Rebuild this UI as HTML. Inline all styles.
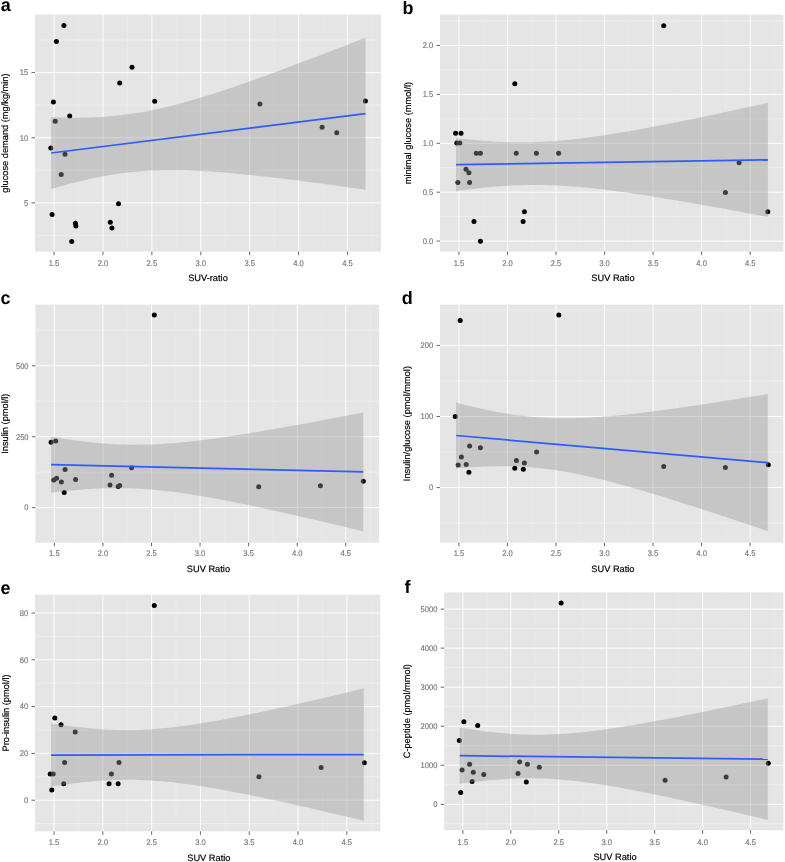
<!DOCTYPE html>
<html><head><meta charset="utf-8"><style>
html,body{margin:0;padding:0;background:#fff;}
svg{display:block;will-change:transform;}
text{font-family:"Liberation Sans",sans-serif;text-rendering:geometricPrecision;}
.tk{font-size:7.6px;fill:#727272;stroke:#727272;stroke-width:0.12px;}
.ti{font-size:9.25px;fill:#000;stroke:#000;stroke-width:0.18px;}
.lt{font-size:18px;font-weight:bold;fill:#000;}
</style></head><body>
<svg width="785" height="862" viewBox="0 0 785 862">
<rect width="785" height="862" fill="#fff"/>
<rect x="35" y="14.5" width="346" height="237.1" fill="#e5e5e5"/>
<line x1="35" x2="381" y1="235.47" y2="235.47" stroke="#f1f1f1" stroke-width="0.8"/>
<line x1="35" x2="381" y1="170.32" y2="170.32" stroke="#f1f1f1" stroke-width="0.8"/>
<line x1="35" x2="381" y1="105.17" y2="105.17" stroke="#f1f1f1" stroke-width="0.8"/>
<line x1="35" x2="381" y1="40.02" y2="40.02" stroke="#f1f1f1" stroke-width="0.8"/>
<line y1="14.5" y2="251.6" x1="78.52" x2="78.52" stroke="#eaeaea" stroke-width="0.8"/>
<line y1="14.5" y2="251.6" x1="127.42" x2="127.42" stroke="#eaeaea" stroke-width="0.8"/>
<line y1="14.5" y2="251.6" x1="176.31" x2="176.31" stroke="#eaeaea" stroke-width="0.8"/>
<line y1="14.5" y2="251.6" x1="225.21" x2="225.21" stroke="#eaeaea" stroke-width="0.8"/>
<line y1="14.5" y2="251.6" x1="274.11" x2="274.11" stroke="#eaeaea" stroke-width="0.8"/>
<line y1="14.5" y2="251.6" x1="323.01" x2="323.01" stroke="#eaeaea" stroke-width="0.8"/>
<line y1="14.5" y2="251.6" x1="371.91" x2="371.91" stroke="#eaeaea" stroke-width="0.8"/>
<line x1="35" x2="381" y1="202.9" y2="202.9" stroke="#ffffff" stroke-width="0.95"/>
<line x1="35" x2="381" y1="137.75" y2="137.75" stroke="#ffffff" stroke-width="0.95"/>
<line x1="35" x2="381" y1="72.6" y2="72.6" stroke="#ffffff" stroke-width="0.95"/>
<line y1="14.5" y2="251.6" x1="54.07" x2="54.07" stroke="#ffffff" stroke-width="0.95"/>
<line y1="14.5" y2="251.6" x1="102.97" x2="102.97" stroke="#ffffff" stroke-width="0.95"/>
<line y1="14.5" y2="251.6" x1="151.87" x2="151.87" stroke="#ffffff" stroke-width="0.95"/>
<line y1="14.5" y2="251.6" x1="200.76" x2="200.76" stroke="#ffffff" stroke-width="0.95"/>
<line y1="14.5" y2="251.6" x1="249.66" x2="249.66" stroke="#ffffff" stroke-width="0.95"/>
<line y1="14.5" y2="251.6" x1="298.56" x2="298.56" stroke="#ffffff" stroke-width="0.95"/>
<line y1="14.5" y2="251.6" x1="347.46" x2="347.46" stroke="#ffffff" stroke-width="0.95"/>
<circle cx="63.9" cy="25.6" r="2.5"/>
<circle cx="56.4" cy="41.4" r="2.5"/>
<circle cx="132" cy="67.3" r="2.5"/>
<circle cx="119.7" cy="82.9" r="2.5"/>
<circle cx="53.4" cy="101.9" r="2.5"/>
<circle cx="154.7" cy="101.3" r="2.5"/>
<circle cx="69.7" cy="115.9" r="2.5"/>
<circle cx="55.2" cy="121.2" r="2.5"/>
<circle cx="50.8" cy="147.9" r="2.5"/>
<circle cx="65" cy="154.2" r="2.5"/>
<circle cx="61.2" cy="174.5" r="2.5"/>
<circle cx="52.1" cy="214.5" r="2.5"/>
<circle cx="75.4" cy="223.2" r="2.5"/>
<circle cx="75.9" cy="225.9" r="2.5"/>
<circle cx="110.3" cy="222.3" r="2.5"/>
<circle cx="111.9" cy="228" r="2.5"/>
<circle cx="118.5" cy="203.7" r="2.5"/>
<circle cx="71.7" cy="241.5" r="2.5"/>
<circle cx="259.9" cy="104" r="2.5"/>
<circle cx="365.4" cy="101" r="2.5"/>
<circle cx="322.1" cy="127.3" r="2.5"/>
<circle cx="336.7" cy="132.7" r="2.5"/>
<path d="M51.2,117.05 L56.53,117.28 L61.85,117.45 L67.18,117.58 L72.51,117.65 L77.84,117.66 L83.16,117.61 L88.49,117.5 L93.82,117.31 L99.14,117.06 L104.47,116.73 L109.8,116.32 L115.13,115.82 L120.45,115.25 L125.78,114.6 L131.11,113.86 L136.43,113.04 L141.76,112.14 L147.09,111.16 L152.42,110.11 L157.74,108.98 L163.07,107.78 L168.4,106.51 L173.72,105.19 L179.05,103.8 L184.38,102.36 L189.71,100.86 L195.03,99.32 L200.36,97.73 L205.69,96.1 L211.01,94.43 L216.34,92.73 L221.67,91 L226.99,89.23 L232.32,87.44 L237.65,85.62 L242.98,83.78 L248.3,81.91 L253.63,80.03 L258.96,78.12 L264.28,76.2 L269.61,74.26 L274.94,72.31 L280.27,70.34 L285.59,68.37 L290.92,66.37 L296.25,64.37 L301.57,62.36 L306.9,60.34 L312.23,58.31 L317.56,56.27 L322.88,54.22 L328.21,52.16 L333.54,50.1 L338.86,48.03 L344.19,45.95 L349.52,43.87 L354.85,41.79 L360.17,39.7 L365.5,37.6 L365.5,189.8 L360.17,189.04 L354.85,188.28 L349.52,187.52 L344.19,186.77 L338.86,186.03 L333.54,185.29 L328.21,184.56 L322.88,183.84 L317.56,183.12 L312.23,182.42 L306.9,181.72 L301.57,181.03 L296.25,180.35 L290.92,179.68 L285.59,179.02 L280.27,178.37 L274.94,177.74 L269.61,177.12 L264.28,176.51 L258.96,175.92 L253.63,175.35 L248.3,174.8 L242.98,174.27 L237.65,173.75 L232.32,173.27 L226.99,172.81 L221.67,172.37 L216.34,171.97 L211.01,171.6 L205.69,171.26 L200.36,170.97 L195.03,170.71 L189.71,170.5 L184.38,170.34 L179.05,170.23 L173.72,170.17 L168.4,170.18 L163.07,170.24 L157.74,170.38 L152.42,170.58 L147.09,170.86 L141.76,171.21 L136.43,171.64 L131.11,172.16 L125.78,172.75 L120.45,173.43 L115.13,174.19 L109.8,175.03 L104.47,175.95 L99.14,176.95 L93.82,178.03 L88.49,179.18 L83.16,180.39 L77.84,181.68 L72.51,183.02 L67.18,184.43 L61.85,185.88 L56.53,187.39 L51.2,188.95 Z" fill="#999999" fill-opacity="0.4"/>
<line x1="51.2" y1="153" x2="365.5" y2="113.7" stroke="#2d5cff" stroke-width="1.75"/>
<line x1="31.5" x2="35" y1="202.9" y2="202.9" stroke="#6a6a6a" stroke-width="1"/>
<text transform="translate(28.2,205.75) scale(1,1.08)" text-anchor="end" class="tk">5</text>
<line x1="31.5" x2="35" y1="137.75" y2="137.75" stroke="#6a6a6a" stroke-width="1"/>
<text transform="translate(28.2,140.6) scale(1,1.08)" text-anchor="end" class="tk">10</text>
<line x1="31.5" x2="35" y1="72.6" y2="72.6" stroke="#6a6a6a" stroke-width="1"/>
<text transform="translate(28.2,75.45) scale(1,1.08)" text-anchor="end" class="tk">15</text>
<line x1="54.07" x2="54.07" y1="251.6" y2="255.2" stroke="#6a6a6a" stroke-width="1"/>
<text transform="translate(54.07,265.5) scale(1,1.08)" text-anchor="middle" class="tk">1.5</text>
<line x1="102.97" x2="102.97" y1="251.6" y2="255.2" stroke="#6a6a6a" stroke-width="1"/>
<text transform="translate(102.97,265.5) scale(1,1.08)" text-anchor="middle" class="tk">2.0</text>
<line x1="151.87" x2="151.87" y1="251.6" y2="255.2" stroke="#6a6a6a" stroke-width="1"/>
<text transform="translate(151.87,265.5) scale(1,1.08)" text-anchor="middle" class="tk">2.5</text>
<line x1="200.76" x2="200.76" y1="251.6" y2="255.2" stroke="#6a6a6a" stroke-width="1"/>
<text transform="translate(200.76,265.5) scale(1,1.08)" text-anchor="middle" class="tk">3.0</text>
<line x1="249.66" x2="249.66" y1="251.6" y2="255.2" stroke="#6a6a6a" stroke-width="1"/>
<text transform="translate(249.66,265.5) scale(1,1.08)" text-anchor="middle" class="tk">3.5</text>
<line x1="298.56" x2="298.56" y1="251.6" y2="255.2" stroke="#6a6a6a" stroke-width="1"/>
<text transform="translate(298.56,265.5) scale(1,1.08)" text-anchor="middle" class="tk">4.0</text>
<line x1="347.46" x2="347.46" y1="251.6" y2="255.2" stroke="#6a6a6a" stroke-width="1"/>
<text transform="translate(347.46,265.5) scale(1,1.08)" text-anchor="middle" class="tk">4.5</text>
<text x="208" y="281.3" text-anchor="middle" class="ti">SUV-ratio</text>
<text transform="translate(7.9,133.05) rotate(-90)" text-anchor="middle" class="ti">glucose demand (mg/kg/min)</text>
<text x="0.8" y="11.4" class="lt">a</text>
<rect x="440" y="14.6" width="343.5" height="236.9" fill="#e5e5e5"/>
<line x1="440" x2="783.5" y1="216.65" y2="216.65" stroke="#f1f1f1" stroke-width="0.8"/>
<line x1="440" x2="783.5" y1="167.75" y2="167.75" stroke="#f1f1f1" stroke-width="0.8"/>
<line x1="440" x2="783.5" y1="118.85" y2="118.85" stroke="#f1f1f1" stroke-width="0.8"/>
<line x1="440" x2="783.5" y1="69.95" y2="69.95" stroke="#f1f1f1" stroke-width="0.8"/>
<line x1="440" x2="783.5" y1="21.05" y2="21.05" stroke="#f1f1f1" stroke-width="0.8"/>
<line y1="14.6" y2="251.5" x1="483.2" x2="483.2" stroke="#eaeaea" stroke-width="0.8"/>
<line y1="14.6" y2="251.5" x1="531.75" x2="531.75" stroke="#eaeaea" stroke-width="0.8"/>
<line y1="14.6" y2="251.5" x1="580.29" x2="580.29" stroke="#eaeaea" stroke-width="0.8"/>
<line y1="14.6" y2="251.5" x1="628.84" x2="628.84" stroke="#eaeaea" stroke-width="0.8"/>
<line y1="14.6" y2="251.5" x1="677.38" x2="677.38" stroke="#eaeaea" stroke-width="0.8"/>
<line y1="14.6" y2="251.5" x1="725.93" x2="725.93" stroke="#eaeaea" stroke-width="0.8"/>
<line y1="14.6" y2="251.5" x1="774.47" x2="774.47" stroke="#eaeaea" stroke-width="0.8"/>
<line x1="440" x2="783.5" y1="241.1" y2="241.1" stroke="#ffffff" stroke-width="0.95"/>
<line x1="440" x2="783.5" y1="192.2" y2="192.2" stroke="#ffffff" stroke-width="0.95"/>
<line x1="440" x2="783.5" y1="143.3" y2="143.3" stroke="#ffffff" stroke-width="0.95"/>
<line x1="440" x2="783.5" y1="94.4" y2="94.4" stroke="#ffffff" stroke-width="0.95"/>
<line x1="440" x2="783.5" y1="45.5" y2="45.5" stroke="#ffffff" stroke-width="0.95"/>
<line y1="14.6" y2="251.5" x1="458.93" x2="458.93" stroke="#ffffff" stroke-width="0.95"/>
<line y1="14.6" y2="251.5" x1="507.48" x2="507.48" stroke="#ffffff" stroke-width="0.95"/>
<line y1="14.6" y2="251.5" x1="556.02" x2="556.02" stroke="#ffffff" stroke-width="0.95"/>
<line y1="14.6" y2="251.5" x1="604.57" x2="604.57" stroke="#ffffff" stroke-width="0.95"/>
<line y1="14.6" y2="251.5" x1="653.11" x2="653.11" stroke="#ffffff" stroke-width="0.95"/>
<line y1="14.6" y2="251.5" x1="701.65" x2="701.65" stroke="#ffffff" stroke-width="0.95"/>
<line y1="14.6" y2="251.5" x1="750.2" x2="750.2" stroke="#ffffff" stroke-width="0.95"/>
<circle cx="663.7" cy="25.8" r="2.5"/>
<circle cx="514.8" cy="83.8" r="2.5"/>
<circle cx="455.6" cy="133.3" r="2.5"/>
<circle cx="461" cy="133.3" r="2.5"/>
<circle cx="456.8" cy="142.9" r="2.5"/>
<circle cx="459.8" cy="142.9" r="2.5"/>
<circle cx="476.3" cy="153.2" r="2.5"/>
<circle cx="480.4" cy="153.2" r="2.5"/>
<circle cx="516.2" cy="153.2" r="2.5"/>
<circle cx="536.4" cy="153.2" r="2.5"/>
<circle cx="558.6" cy="153.2" r="2.5"/>
<circle cx="466" cy="169.3" r="2.5"/>
<circle cx="468.9" cy="172.7" r="2.5"/>
<circle cx="457.9" cy="182.4" r="2.5"/>
<circle cx="469.6" cy="182.4" r="2.5"/>
<circle cx="524.4" cy="211.7" r="2.5"/>
<circle cx="474" cy="221.6" r="2.5"/>
<circle cx="523.1" cy="221.6" r="2.5"/>
<circle cx="480.4" cy="241.3" r="2.5"/>
<circle cx="739.1" cy="162.7" r="2.5"/>
<circle cx="725.4" cy="192.5" r="2.5"/>
<circle cx="767.8" cy="211.7" r="2.5"/>
<path d="M456.1,138.15 L461.38,138.74 L466.67,139.3 L471.95,139.82 L477.24,140.3 L482.52,140.74 L487.81,141.12 L493.09,141.46 L498.38,141.75 L503.66,141.97 L508.95,142.15 L514.23,142.26 L519.52,142.31 L524.8,142.29 L530.09,142.22 L535.37,142.08 L540.66,141.87 L545.94,141.61 L551.23,141.28 L556.51,140.9 L561.79,140.46 L567.08,139.96 L572.36,139.42 L577.65,138.83 L582.93,138.19 L588.22,137.52 L593.5,136.8 L598.79,136.05 L604.07,135.26 L609.36,134.44 L614.64,133.6 L619.93,132.73 L625.21,131.83 L630.5,130.91 L635.78,129.97 L641.07,129.02 L646.35,128.04 L651.64,127.05 L656.92,126.05 L662.21,125.03 L667.49,123.99 L672.77,122.95 L678.06,121.89 L683.34,120.83 L688.63,119.75 L693.91,118.67 L699.2,117.58 L704.48,116.48 L709.77,115.38 L715.05,114.26 L720.34,113.14 L725.62,112.02 L730.91,110.89 L736.19,109.76 L741.48,108.62 L746.76,107.47 L752.05,106.32 L757.33,105.17 L762.62,104.01 L767.9,102.85 L767.9,216.95 L762.62,215.95 L757.33,214.95 L752.05,213.97 L746.76,212.98 L741.48,212 L736.19,211.02 L730.91,210.05 L725.62,209.08 L720.34,208.12 L715.05,207.16 L709.77,206.21 L704.48,205.27 L699.2,204.33 L693.91,203.41 L688.63,202.49 L683.34,201.57 L678.06,200.67 L672.77,199.78 L667.49,198.9 L662.21,198.03 L656.92,197.17 L651.64,196.33 L646.35,195.5 L641.07,194.69 L635.78,193.89 L630.5,193.12 L625.21,192.36 L619.93,191.63 L614.64,190.92 L609.36,190.24 L604.07,189.58 L598.79,188.96 L593.5,188.37 L588.22,187.82 L582.93,187.3 L577.65,186.83 L572.36,186.4 L567.08,186.02 L561.79,185.69 L556.51,185.41 L551.23,185.19 L545.94,185.03 L540.66,184.92 L535.37,184.88 L530.09,184.91 L524.8,184.99 L519.52,185.14 L514.23,185.35 L508.95,185.63 L503.66,185.96 L498.38,186.35 L493.09,186.8 L487.81,187.3 L482.52,187.85 L477.24,188.45 L471.95,189.09 L466.67,189.77 L461.38,190.5 L456.1,191.25 Z" fill="#999999" fill-opacity="0.4"/>
<line x1="456.1" y1="164.7" x2="767.9" y2="159.9" stroke="#2d5cff" stroke-width="1.75"/>
<line x1="436.5" x2="440" y1="241.1" y2="241.1" stroke="#6a6a6a" stroke-width="1"/>
<text transform="translate(433.2,243.95) scale(1,1.08)" text-anchor="end" class="tk">0.0</text>
<line x1="436.5" x2="440" y1="192.2" y2="192.2" stroke="#6a6a6a" stroke-width="1"/>
<text transform="translate(433.2,195.05) scale(1,1.08)" text-anchor="end" class="tk">0.5</text>
<line x1="436.5" x2="440" y1="143.3" y2="143.3" stroke="#6a6a6a" stroke-width="1"/>
<text transform="translate(433.2,146.15) scale(1,1.08)" text-anchor="end" class="tk">1.0</text>
<line x1="436.5" x2="440" y1="94.4" y2="94.4" stroke="#6a6a6a" stroke-width="1"/>
<text transform="translate(433.2,97.25) scale(1,1.08)" text-anchor="end" class="tk">1.5</text>
<line x1="436.5" x2="440" y1="45.5" y2="45.5" stroke="#6a6a6a" stroke-width="1"/>
<text transform="translate(433.2,48.35) scale(1,1.08)" text-anchor="end" class="tk">2.0</text>
<line x1="458.93" x2="458.93" y1="251.5" y2="255.1" stroke="#6a6a6a" stroke-width="1"/>
<text transform="translate(458.93,265.5) scale(1,1.08)" text-anchor="middle" class="tk">1.5</text>
<line x1="507.48" x2="507.48" y1="251.5" y2="255.1" stroke="#6a6a6a" stroke-width="1"/>
<text transform="translate(507.48,265.5) scale(1,1.08)" text-anchor="middle" class="tk">2.0</text>
<line x1="556.02" x2="556.02" y1="251.5" y2="255.1" stroke="#6a6a6a" stroke-width="1"/>
<text transform="translate(556.02,265.5) scale(1,1.08)" text-anchor="middle" class="tk">2.5</text>
<line x1="604.57" x2="604.57" y1="251.5" y2="255.1" stroke="#6a6a6a" stroke-width="1"/>
<text transform="translate(604.57,265.5) scale(1,1.08)" text-anchor="middle" class="tk">3.0</text>
<line x1="653.11" x2="653.11" y1="251.5" y2="255.1" stroke="#6a6a6a" stroke-width="1"/>
<text transform="translate(653.11,265.5) scale(1,1.08)" text-anchor="middle" class="tk">3.5</text>
<line x1="701.65" x2="701.65" y1="251.5" y2="255.1" stroke="#6a6a6a" stroke-width="1"/>
<text transform="translate(701.65,265.5) scale(1,1.08)" text-anchor="middle" class="tk">4.0</text>
<line x1="750.2" x2="750.2" y1="251.5" y2="255.1" stroke="#6a6a6a" stroke-width="1"/>
<text transform="translate(750.2,265.5) scale(1,1.08)" text-anchor="middle" class="tk">4.5</text>
<text x="612.95" y="281.2" text-anchor="middle" class="ti">SUV Ratio</text>
<text transform="translate(410.6,133.05) rotate(-90)" text-anchor="middle" class="ti">minimal glucose (mmol/l)</text>
<text x="402.6" y="13.7" class="lt">b</text>
<rect x="35.4" y="304.6" width="343.7" height="238.1" fill="#e5e5e5"/>
<line x1="35.4" x2="379.1" y1="472.15" y2="472.15" stroke="#f1f1f1" stroke-width="0.8"/>
<line x1="35.4" x2="379.1" y1="401.25" y2="401.25" stroke="#f1f1f1" stroke-width="0.8"/>
<line x1="35.4" x2="379.1" y1="330.35" y2="330.35" stroke="#f1f1f1" stroke-width="0.8"/>
<line y1="304.6" y2="542.7" x1="78.63" x2="78.63" stroke="#eaeaea" stroke-width="0.8"/>
<line y1="304.6" y2="542.7" x1="127.2" x2="127.2" stroke="#eaeaea" stroke-width="0.8"/>
<line y1="304.6" y2="542.7" x1="175.77" x2="175.77" stroke="#eaeaea" stroke-width="0.8"/>
<line y1="304.6" y2="542.7" x1="224.35" x2="224.35" stroke="#eaeaea" stroke-width="0.8"/>
<line y1="304.6" y2="542.7" x1="272.92" x2="272.92" stroke="#eaeaea" stroke-width="0.8"/>
<line y1="304.6" y2="542.7" x1="321.49" x2="321.49" stroke="#eaeaea" stroke-width="0.8"/>
<line y1="304.6" y2="542.7" x1="370.07" x2="370.07" stroke="#eaeaea" stroke-width="0.8"/>
<line x1="35.4" x2="379.1" y1="507.6" y2="507.6" stroke="#ffffff" stroke-width="0.95"/>
<line x1="35.4" x2="379.1" y1="436.7" y2="436.7" stroke="#ffffff" stroke-width="0.95"/>
<line x1="35.4" x2="379.1" y1="365.8" y2="365.8" stroke="#ffffff" stroke-width="0.95"/>
<line y1="304.6" y2="542.7" x1="54.34" x2="54.34" stroke="#ffffff" stroke-width="0.95"/>
<line y1="304.6" y2="542.7" x1="102.92" x2="102.92" stroke="#ffffff" stroke-width="0.95"/>
<line y1="304.6" y2="542.7" x1="151.49" x2="151.49" stroke="#ffffff" stroke-width="0.95"/>
<line y1="304.6" y2="542.7" x1="200.06" x2="200.06" stroke="#ffffff" stroke-width="0.95"/>
<line y1="304.6" y2="542.7" x1="248.63" x2="248.63" stroke="#ffffff" stroke-width="0.95"/>
<line y1="304.6" y2="542.7" x1="297.21" x2="297.21" stroke="#ffffff" stroke-width="0.95"/>
<line y1="304.6" y2="542.7" x1="345.78" x2="345.78" stroke="#ffffff" stroke-width="0.95"/>
<circle cx="154.3" cy="315.1" r="2.5"/>
<circle cx="51.1" cy="442.2" r="2.5"/>
<circle cx="55.7" cy="440.9" r="2.5"/>
<circle cx="65.1" cy="469.5" r="2.5"/>
<circle cx="53.8" cy="480.1" r="2.5"/>
<circle cx="56.6" cy="478.2" r="2.5"/>
<circle cx="61.4" cy="482.1" r="2.5"/>
<circle cx="75.6" cy="479.4" r="2.5"/>
<circle cx="64.2" cy="492.5" r="2.5"/>
<circle cx="111.6" cy="475.3" r="2.5"/>
<circle cx="110" cy="485.1" r="2.5"/>
<circle cx="118.1" cy="486.5" r="2.5"/>
<circle cx="119.7" cy="485.4" r="2.5"/>
<circle cx="131.6" cy="467.7" r="2.5"/>
<circle cx="258.7" cy="486.7" r="2.5"/>
<circle cx="320.4" cy="485.8" r="2.5"/>
<circle cx="363.3" cy="481.3" r="2.5"/>
<path d="M51.1,436.67 L56.39,437.55 L61.68,438.4 L66.97,439.21 L72.27,439.98 L77.56,440.7 L82.85,441.37 L88.14,441.99 L93.43,442.56 L98.72,443.06 L104.02,443.51 L109.31,443.89 L114.6,444.2 L119.89,444.44 L125.18,444.62 L130.47,444.72 L135.76,444.76 L141.06,444.72 L146.35,444.62 L151.64,444.45 L156.93,444.22 L162.22,443.93 L167.51,443.58 L172.81,443.18 L178.1,442.73 L183.39,442.23 L188.68,441.68 L193.97,441.1 L199.26,440.48 L204.55,439.82 L209.85,439.13 L215.14,438.42 L220.43,437.67 L225.72,436.91 L231.01,436.12 L236.3,435.3 L241.59,434.47 L246.89,433.63 L252.18,432.76 L257.47,431.88 L262.76,430.99 L268.05,430.09 L273.34,429.17 L278.64,428.24 L283.93,427.3 L289.22,426.36 L294.51,425.4 L299.8,424.44 L305.09,423.47 L310.38,422.49 L315.68,421.5 L320.97,420.51 L326.26,419.52 L331.55,418.51 L336.84,417.51 L342.13,416.5 L347.43,415.48 L352.72,414.46 L358.01,413.44 L363.3,412.41 L363.3,531.39 L358.01,530.12 L352.72,528.85 L347.43,527.59 L342.13,526.33 L336.84,525.07 L331.55,523.82 L326.26,522.58 L320.97,521.34 L315.68,520.1 L310.38,518.87 L305.09,517.65 L299.8,516.43 L294.51,515.23 L289.22,514.03 L283.93,512.84 L278.64,511.65 L273.34,510.48 L268.05,509.32 L262.76,508.17 L257.47,507.04 L252.18,505.91 L246.89,504.8 L241.59,503.71 L236.3,502.64 L231.01,501.58 L225.72,500.55 L220.43,499.54 L215.14,498.55 L209.85,497.59 L204.55,496.66 L199.26,495.76 L193.97,494.89 L188.68,494.06 L183.39,493.27 L178.1,492.53 L172.81,491.83 L167.51,491.19 L162.22,490.59 L156.93,490.06 L151.64,489.58 L146.35,489.17 L141.06,488.83 L135.76,488.55 L130.47,488.34 L125.18,488.2 L119.89,488.13 L114.6,488.13 L109.31,488.2 L104.02,488.33 L98.72,488.54 L93.43,488.8 L88.14,489.12 L82.85,489.49 L77.56,489.92 L72.27,490.4 L66.97,490.92 L61.68,491.49 L56.39,492.09 L51.1,492.73 Z" fill="#999999" fill-opacity="0.4"/>
<line x1="51.1" y1="464.7" x2="363.3" y2="471.9" stroke="#2d5cff" stroke-width="1.75"/>
<line x1="31.9" x2="35.4" y1="507.6" y2="507.6" stroke="#6a6a6a" stroke-width="1"/>
<text transform="translate(28.6,510.45) scale(1,1.08)" text-anchor="end" class="tk">0</text>
<line x1="31.9" x2="35.4" y1="436.7" y2="436.7" stroke="#6a6a6a" stroke-width="1"/>
<text transform="translate(28.6,439.55) scale(1,1.08)" text-anchor="end" class="tk">250</text>
<line x1="31.9" x2="35.4" y1="365.8" y2="365.8" stroke="#6a6a6a" stroke-width="1"/>
<text transform="translate(28.6,368.65) scale(1,1.08)" text-anchor="end" class="tk">500</text>
<line x1="54.34" x2="54.34" y1="542.7" y2="546.3" stroke="#6a6a6a" stroke-width="1"/>
<text transform="translate(54.34,556.25) scale(1,1.08)" text-anchor="middle" class="tk">1.5</text>
<line x1="102.92" x2="102.92" y1="542.7" y2="546.3" stroke="#6a6a6a" stroke-width="1"/>
<text transform="translate(102.92,556.25) scale(1,1.08)" text-anchor="middle" class="tk">2.0</text>
<line x1="151.49" x2="151.49" y1="542.7" y2="546.3" stroke="#6a6a6a" stroke-width="1"/>
<text transform="translate(151.49,556.25) scale(1,1.08)" text-anchor="middle" class="tk">2.5</text>
<line x1="200.06" x2="200.06" y1="542.7" y2="546.3" stroke="#6a6a6a" stroke-width="1"/>
<text transform="translate(200.06,556.25) scale(1,1.08)" text-anchor="middle" class="tk">3.0</text>
<line x1="248.63" x2="248.63" y1="542.7" y2="546.3" stroke="#6a6a6a" stroke-width="1"/>
<text transform="translate(248.63,556.25) scale(1,1.08)" text-anchor="middle" class="tk">3.5</text>
<line x1="297.21" x2="297.21" y1="542.7" y2="546.3" stroke="#6a6a6a" stroke-width="1"/>
<text transform="translate(297.21,556.25) scale(1,1.08)" text-anchor="middle" class="tk">4.0</text>
<line x1="345.78" x2="345.78" y1="542.7" y2="546.3" stroke="#6a6a6a" stroke-width="1"/>
<text transform="translate(345.78,556.25) scale(1,1.08)" text-anchor="middle" class="tk">4.5</text>
<text x="208.45" y="572.4" text-anchor="middle" class="ti">SUV Ratio</text>
<text transform="translate(8.4,423.65) rotate(-90)" text-anchor="middle" class="ti">Insulin (pmol/l)</text>
<text x="0.6" y="304.2" class="lt">c</text>
<rect x="440" y="304.6" width="343.4" height="238" fill="#e5e5e5"/>
<line x1="440" x2="783.4" y1="523.15" y2="523.15" stroke="#f1f1f1" stroke-width="0.8"/>
<line x1="440" x2="783.4" y1="452.05" y2="452.05" stroke="#f1f1f1" stroke-width="0.8"/>
<line x1="440" x2="783.4" y1="380.95" y2="380.95" stroke="#f1f1f1" stroke-width="0.8"/>
<line x1="440" x2="783.4" y1="309.85" y2="309.85" stroke="#f1f1f1" stroke-width="0.8"/>
<line y1="304.6" y2="542.6" x1="483.19" x2="483.19" stroke="#eaeaea" stroke-width="0.8"/>
<line y1="304.6" y2="542.6" x1="531.72" x2="531.72" stroke="#eaeaea" stroke-width="0.8"/>
<line y1="304.6" y2="542.6" x1="580.25" x2="580.25" stroke="#eaeaea" stroke-width="0.8"/>
<line y1="304.6" y2="542.6" x1="628.78" x2="628.78" stroke="#eaeaea" stroke-width="0.8"/>
<line y1="304.6" y2="542.6" x1="677.31" x2="677.31" stroke="#eaeaea" stroke-width="0.8"/>
<line y1="304.6" y2="542.6" x1="725.84" x2="725.84" stroke="#eaeaea" stroke-width="0.8"/>
<line y1="304.6" y2="542.6" x1="774.37" x2="774.37" stroke="#eaeaea" stroke-width="0.8"/>
<line x1="440" x2="783.4" y1="487.6" y2="487.6" stroke="#ffffff" stroke-width="0.95"/>
<line x1="440" x2="783.4" y1="416.5" y2="416.5" stroke="#ffffff" stroke-width="0.95"/>
<line x1="440" x2="783.4" y1="345.4" y2="345.4" stroke="#ffffff" stroke-width="0.95"/>
<line y1="304.6" y2="542.6" x1="458.93" x2="458.93" stroke="#ffffff" stroke-width="0.95"/>
<line y1="304.6" y2="542.6" x1="507.46" x2="507.46" stroke="#ffffff" stroke-width="0.95"/>
<line y1="304.6" y2="542.6" x1="555.99" x2="555.99" stroke="#ffffff" stroke-width="0.95"/>
<line y1="304.6" y2="542.6" x1="604.52" x2="604.52" stroke="#ffffff" stroke-width="0.95"/>
<line y1="304.6" y2="542.6" x1="653.05" x2="653.05" stroke="#ffffff" stroke-width="0.95"/>
<line y1="304.6" y2="542.6" x1="701.58" x2="701.58" stroke="#ffffff" stroke-width="0.95"/>
<line y1="304.6" y2="542.6" x1="750.11" x2="750.11" stroke="#ffffff" stroke-width="0.95"/>
<circle cx="460.2" cy="320.4" r="2.5"/>
<circle cx="558.8" cy="315.1" r="2.5"/>
<circle cx="455.2" cy="416.5" r="2.5"/>
<circle cx="469.6" cy="445.9" r="2.5"/>
<circle cx="480.4" cy="447.7" r="2.5"/>
<circle cx="461.4" cy="456.9" r="2.5"/>
<circle cx="458.2" cy="464.9" r="2.5"/>
<circle cx="466.2" cy="464.4" r="2.5"/>
<circle cx="468.9" cy="472.2" r="2.5"/>
<circle cx="516.4" cy="460.5" r="2.5"/>
<circle cx="524.4" cy="463.1" r="2.5"/>
<circle cx="514.8" cy="468.3" r="2.5"/>
<circle cx="523.3" cy="469.2" r="2.5"/>
<circle cx="536.6" cy="452" r="2.5"/>
<circle cx="663.7" cy="466.5" r="2.5"/>
<circle cx="725.4" cy="467.6" r="2.5"/>
<circle cx="768.3" cy="464.7" r="2.5"/>
<path d="M456.1,402.6 L461.38,403.96 L466.67,405.28 L471.95,406.56 L477.23,407.79 L482.52,408.96 L487.8,410.09 L493.08,411.15 L498.36,412.15 L503.65,413.09 L508.93,413.95 L514.21,414.74 L519.5,415.45 L524.78,416.09 L530.06,416.64 L535.35,417.11 L540.63,417.5 L545.91,417.81 L551.19,418.04 L556.48,418.19 L561.76,418.27 L567.04,418.27 L572.33,418.21 L577.61,418.08 L582.89,417.9 L588.18,417.65 L593.46,417.36 L598.74,417.01 L604.03,416.62 L609.31,416.19 L614.59,415.72 L619.87,415.22 L625.16,414.68 L630.44,414.12 L635.72,413.53 L641.01,412.91 L646.29,412.27 L651.57,411.61 L656.86,410.93 L662.14,410.23 L667.42,409.51 L672.71,408.79 L677.99,408.04 L683.27,407.28 L688.55,406.52 L693.84,405.74 L699.12,404.95 L704.4,404.15 L709.69,403.34 L714.97,402.52 L720.25,401.7 L725.54,400.86 L730.82,400.03 L736.1,399.18 L741.38,398.33 L746.67,397.47 L751.95,396.61 L757.23,395.75 L762.52,394.88 L767.8,394 L767.8,531.2 L762.52,529.41 L757.23,527.62 L751.95,525.83 L746.67,524.05 L741.38,522.28 L736.1,520.51 L730.82,518.74 L725.54,516.99 L720.25,515.24 L714.97,513.49 L709.69,511.76 L704.4,510.03 L699.12,508.31 L693.84,506.6 L688.55,504.9 L683.27,503.22 L677.99,501.54 L672.71,499.88 L667.42,498.23 L662.14,496.6 L656.86,494.98 L651.57,493.38 L646.29,491.8 L641.01,490.24 L635.72,488.71 L630.44,487.2 L625.16,485.71 L619.87,484.26 L614.59,482.84 L609.31,481.45 L604.03,480.1 L598.74,478.79 L593.46,477.53 L588.18,476.31 L582.89,475.15 L577.61,474.05 L572.33,473 L567.04,472.02 L561.76,471.11 L556.48,470.26 L551.19,469.5 L545.91,468.81 L540.63,468.2 L535.35,467.67 L530.06,467.22 L524.78,466.86 L519.5,466.57 L514.21,466.37 L508.93,466.24 L503.65,466.18 L498.36,466.2 L493.08,466.28 L487.8,466.42 L482.52,466.63 L477.23,466.89 L471.95,467.2 L466.67,467.56 L461.38,467.96 L456.1,468.4 Z" fill="#999999" fill-opacity="0.4"/>
<line x1="456.1" y1="435.5" x2="767.8" y2="462.6" stroke="#2d5cff" stroke-width="1.75"/>
<line x1="436.5" x2="440" y1="487.6" y2="487.6" stroke="#6a6a6a" stroke-width="1"/>
<text transform="translate(433.2,490.45) scale(1,1.08)" text-anchor="end" class="tk">0</text>
<line x1="436.5" x2="440" y1="416.5" y2="416.5" stroke="#6a6a6a" stroke-width="1"/>
<text transform="translate(433.2,419.35) scale(1,1.08)" text-anchor="end" class="tk">100</text>
<line x1="436.5" x2="440" y1="345.4" y2="345.4" stroke="#6a6a6a" stroke-width="1"/>
<text transform="translate(433.2,348.25) scale(1,1.08)" text-anchor="end" class="tk">200</text>
<line x1="458.93" x2="458.93" y1="542.6" y2="546.2" stroke="#6a6a6a" stroke-width="1"/>
<text transform="translate(458.93,556.25) scale(1,1.08)" text-anchor="middle" class="tk">1.5</text>
<line x1="507.46" x2="507.46" y1="542.6" y2="546.2" stroke="#6a6a6a" stroke-width="1"/>
<text transform="translate(507.46,556.25) scale(1,1.08)" text-anchor="middle" class="tk">2.0</text>
<line x1="555.99" x2="555.99" y1="542.6" y2="546.2" stroke="#6a6a6a" stroke-width="1"/>
<text transform="translate(555.99,556.25) scale(1,1.08)" text-anchor="middle" class="tk">2.5</text>
<line x1="604.52" x2="604.52" y1="542.6" y2="546.2" stroke="#6a6a6a" stroke-width="1"/>
<text transform="translate(604.52,556.25) scale(1,1.08)" text-anchor="middle" class="tk">3.0</text>
<line x1="653.05" x2="653.05" y1="542.6" y2="546.2" stroke="#6a6a6a" stroke-width="1"/>
<text transform="translate(653.05,556.25) scale(1,1.08)" text-anchor="middle" class="tk">3.5</text>
<line x1="701.58" x2="701.58" y1="542.6" y2="546.2" stroke="#6a6a6a" stroke-width="1"/>
<text transform="translate(701.58,556.25) scale(1,1.08)" text-anchor="middle" class="tk">4.0</text>
<line x1="750.11" x2="750.11" y1="542.6" y2="546.2" stroke="#6a6a6a" stroke-width="1"/>
<text transform="translate(750.11,556.25) scale(1,1.08)" text-anchor="middle" class="tk">4.5</text>
<text x="612.9" y="572.3" text-anchor="middle" class="ti">SUV Ratio</text>
<text transform="translate(410,423.6) rotate(-90)" text-anchor="middle" class="ti">Insulin/glucose (pmol/mmol)</text>
<text x="401.8" y="303.8" class="lt">d</text>
<rect x="35" y="594.6" width="345.3" height="236.7" fill="#e5e5e5"/>
<line x1="35" x2="380.3" y1="823.6" y2="823.6" stroke="#f1f1f1" stroke-width="0.8"/>
<line x1="35" x2="380.3" y1="776.8" y2="776.8" stroke="#f1f1f1" stroke-width="0.8"/>
<line x1="35" x2="380.3" y1="730" y2="730" stroke="#f1f1f1" stroke-width="0.8"/>
<line x1="35" x2="380.3" y1="683.2" y2="683.2" stroke="#f1f1f1" stroke-width="0.8"/>
<line x1="35" x2="380.3" y1="636.4" y2="636.4" stroke="#f1f1f1" stroke-width="0.8"/>
<line y1="594.6" y2="831.3" x1="78.43" x2="78.43" stroke="#eaeaea" stroke-width="0.8"/>
<line y1="594.6" y2="831.3" x1="127.23" x2="127.23" stroke="#eaeaea" stroke-width="0.8"/>
<line y1="594.6" y2="831.3" x1="176.03" x2="176.03" stroke="#eaeaea" stroke-width="0.8"/>
<line y1="594.6" y2="831.3" x1="224.83" x2="224.83" stroke="#eaeaea" stroke-width="0.8"/>
<line y1="594.6" y2="831.3" x1="273.63" x2="273.63" stroke="#eaeaea" stroke-width="0.8"/>
<line y1="594.6" y2="831.3" x1="322.42" x2="322.42" stroke="#eaeaea" stroke-width="0.8"/>
<line y1="594.6" y2="831.3" x1="371.22" x2="371.22" stroke="#eaeaea" stroke-width="0.8"/>
<line x1="35" x2="380.3" y1="800.2" y2="800.2" stroke="#ffffff" stroke-width="0.95"/>
<line x1="35" x2="380.3" y1="753.4" y2="753.4" stroke="#ffffff" stroke-width="0.95"/>
<line x1="35" x2="380.3" y1="706.6" y2="706.6" stroke="#ffffff" stroke-width="0.95"/>
<line x1="35" x2="380.3" y1="659.8" y2="659.8" stroke="#ffffff" stroke-width="0.95"/>
<line x1="35" x2="380.3" y1="613" y2="613" stroke="#ffffff" stroke-width="0.95"/>
<line y1="594.6" y2="831.3" x1="54.03" x2="54.03" stroke="#ffffff" stroke-width="0.95"/>
<line y1="594.6" y2="831.3" x1="102.83" x2="102.83" stroke="#ffffff" stroke-width="0.95"/>
<line y1="594.6" y2="831.3" x1="151.63" x2="151.63" stroke="#ffffff" stroke-width="0.95"/>
<line y1="594.6" y2="831.3" x1="200.43" x2="200.43" stroke="#ffffff" stroke-width="0.95"/>
<line y1="594.6" y2="831.3" x1="249.23" x2="249.23" stroke="#ffffff" stroke-width="0.95"/>
<line y1="594.6" y2="831.3" x1="298.03" x2="298.03" stroke="#ffffff" stroke-width="0.95"/>
<line y1="594.6" y2="831.3" x1="346.82" x2="346.82" stroke="#ffffff" stroke-width="0.95"/>
<circle cx="154.3" cy="605.6" r="2.5"/>
<circle cx="54.8" cy="717.9" r="2.5"/>
<circle cx="61" cy="724.8" r="2.5"/>
<circle cx="75.2" cy="732.1" r="2.5"/>
<circle cx="64.6" cy="762.6" r="2.5"/>
<circle cx="119" cy="762.6" r="2.5"/>
<circle cx="50.2" cy="774.1" r="2.5"/>
<circle cx="53.2" cy="774.1" r="2.5"/>
<circle cx="111.4" cy="774.1" r="2.5"/>
<circle cx="63.7" cy="783.7" r="2.5"/>
<circle cx="109.1" cy="783.7" r="2.5"/>
<circle cx="118.1" cy="783.7" r="2.5"/>
<circle cx="51.8" cy="790.1" r="2.5"/>
<circle cx="258.9" cy="776.7" r="2.5"/>
<circle cx="321.1" cy="767.5" r="2.5"/>
<circle cx="364.3" cy="762.8" r="2.5"/>
<path d="M51.1,723.34 L56.4,724.16 L61.7,724.94 L67,725.69 L72.3,726.38 L77.6,727.02 L82.9,727.62 L88.2,728.15 L93.5,728.62 L98.8,729.03 L104.1,729.38 L109.4,729.65 L114.7,729.85 L120,729.98 L125.3,730.03 L130.6,730.01 L135.9,729.91 L141.2,729.74 L146.5,729.49 L151.8,729.17 L157.1,728.78 L162.4,728.33 L167.7,727.81 L173,727.24 L178.3,726.61 L183.6,725.93 L188.9,725.2 L194.2,724.42 L199.5,723.61 L204.8,722.75 L210.1,721.86 L215.4,720.94 L220.7,719.98 L226,719 L231.3,718 L236.6,716.97 L241.9,715.91 L247.2,714.84 L252.5,713.75 L257.8,712.65 L263.1,711.52 L268.4,710.39 L273.7,709.23 L279,708.07 L284.3,706.9 L289.6,705.71 L294.9,704.52 L300.2,703.31 L305.5,702.1 L310.8,700.88 L316.1,699.65 L321.4,698.41 L326.7,697.17 L332,695.92 L337.3,694.67 L342.6,693.41 L347.9,692.14 L353.2,690.87 L358.5,689.6 L363.8,688.32 L363.8,820.68 L358.5,819.42 L353.2,818.16 L347.9,816.91 L342.6,815.66 L337.3,814.42 L332,813.18 L326.7,811.95 L321.4,810.72 L316.1,809.5 L310.8,808.29 L305.5,807.09 L300.2,805.89 L294.9,804.7 L289.6,803.53 L284.3,802.36 L279,801.2 L273.7,800.05 L268.4,798.92 L263.1,797.8 L257.8,796.69 L252.5,795.6 L247.2,794.53 L241.9,793.48 L236.6,792.44 L231.3,791.43 L226,790.44 L220.7,789.47 L215.4,788.54 L210.1,787.63 L204.8,786.76 L199.5,785.92 L194.2,785.12 L188.9,784.36 L183.6,783.65 L178.3,782.98 L173,782.37 L167.7,781.81 L162.4,781.31 L157.1,780.88 L151.8,780.51 L146.5,780.21 L141.2,779.98 L135.9,779.82 L130.6,779.74 L125.3,779.73 L120,779.8 L114.7,779.94 L109.4,780.16 L104.1,780.45 L98.8,780.81 L93.5,781.24 L88.2,781.73 L82.9,782.28 L77.6,782.89 L72.3,783.55 L67,784.26 L61.7,785.02 L56.4,785.82 L51.1,786.66 Z" fill="#999999" fill-opacity="0.4"/>
<line x1="51.1" y1="755" x2="363.8" y2="754.5" stroke="#2d5cff" stroke-width="1.75"/>
<line x1="31.5" x2="35" y1="800.2" y2="800.2" stroke="#6a6a6a" stroke-width="1"/>
<text transform="translate(28.2,803.05) scale(1,1.08)" text-anchor="end" class="tk">0</text>
<line x1="31.5" x2="35" y1="753.4" y2="753.4" stroke="#6a6a6a" stroke-width="1"/>
<text transform="translate(28.2,756.25) scale(1,1.08)" text-anchor="end" class="tk">20</text>
<line x1="31.5" x2="35" y1="706.6" y2="706.6" stroke="#6a6a6a" stroke-width="1"/>
<text transform="translate(28.2,709.45) scale(1,1.08)" text-anchor="end" class="tk">40</text>
<line x1="31.5" x2="35" y1="659.8" y2="659.8" stroke="#6a6a6a" stroke-width="1"/>
<text transform="translate(28.2,662.65) scale(1,1.08)" text-anchor="end" class="tk">60</text>
<line x1="31.5" x2="35" y1="613" y2="613" stroke="#6a6a6a" stroke-width="1"/>
<text transform="translate(28.2,615.85) scale(1,1.08)" text-anchor="end" class="tk">80</text>
<line x1="54.03" x2="54.03" y1="831.3" y2="834.9" stroke="#6a6a6a" stroke-width="1"/>
<text transform="translate(54.03,844.95) scale(1,1.08)" text-anchor="middle" class="tk">1.5</text>
<line x1="102.83" x2="102.83" y1="831.3" y2="834.9" stroke="#6a6a6a" stroke-width="1"/>
<text transform="translate(102.83,844.95) scale(1,1.08)" text-anchor="middle" class="tk">2.0</text>
<line x1="151.63" x2="151.63" y1="831.3" y2="834.9" stroke="#6a6a6a" stroke-width="1"/>
<text transform="translate(151.63,844.95) scale(1,1.08)" text-anchor="middle" class="tk">2.5</text>
<line x1="200.43" x2="200.43" y1="831.3" y2="834.9" stroke="#6a6a6a" stroke-width="1"/>
<text transform="translate(200.43,844.95) scale(1,1.08)" text-anchor="middle" class="tk">3.0</text>
<line x1="249.23" x2="249.23" y1="831.3" y2="834.9" stroke="#6a6a6a" stroke-width="1"/>
<text transform="translate(249.23,844.95) scale(1,1.08)" text-anchor="middle" class="tk">3.5</text>
<line x1="298.03" x2="298.03" y1="831.3" y2="834.9" stroke="#6a6a6a" stroke-width="1"/>
<text transform="translate(298.03,844.95) scale(1,1.08)" text-anchor="middle" class="tk">4.0</text>
<line x1="346.82" x2="346.82" y1="831.3" y2="834.9" stroke="#6a6a6a" stroke-width="1"/>
<text transform="translate(346.82,844.95) scale(1,1.08)" text-anchor="middle" class="tk">4.5</text>
<text x="208.85" y="861" text-anchor="middle" class="ti">SUV Ratio</text>
<text transform="translate(8.6,712.95) rotate(-90)" text-anchor="middle" class="ti">Pro-insulin (pmol/l)</text>
<text x="0.6" y="593.8" class="lt">e</text>
<rect x="444.2" y="592.3" width="339.3" height="237.9" fill="#e5e5e5"/>
<line x1="444.2" x2="783.5" y1="823.82" y2="823.82" stroke="#f1f1f1" stroke-width="0.8"/>
<line x1="444.2" x2="783.5" y1="784.78" y2="784.78" stroke="#f1f1f1" stroke-width="0.8"/>
<line x1="444.2" x2="783.5" y1="745.74" y2="745.74" stroke="#f1f1f1" stroke-width="0.8"/>
<line x1="444.2" x2="783.5" y1="706.7" y2="706.7" stroke="#f1f1f1" stroke-width="0.8"/>
<line x1="444.2" x2="783.5" y1="667.66" y2="667.66" stroke="#f1f1f1" stroke-width="0.8"/>
<line x1="444.2" x2="783.5" y1="628.62" y2="628.62" stroke="#f1f1f1" stroke-width="0.8"/>
<line y1="592.3" y2="830.2" x1="486.88" x2="486.88" stroke="#eaeaea" stroke-width="0.8"/>
<line y1="592.3" y2="830.2" x1="534.83" x2="534.83" stroke="#eaeaea" stroke-width="0.8"/>
<line y1="592.3" y2="830.2" x1="582.78" x2="582.78" stroke="#eaeaea" stroke-width="0.8"/>
<line y1="592.3" y2="830.2" x1="630.73" x2="630.73" stroke="#eaeaea" stroke-width="0.8"/>
<line y1="592.3" y2="830.2" x1="678.68" x2="678.68" stroke="#eaeaea" stroke-width="0.8"/>
<line y1="592.3" y2="830.2" x1="726.63" x2="726.63" stroke="#eaeaea" stroke-width="0.8"/>
<line y1="592.3" y2="830.2" x1="774.58" x2="774.58" stroke="#eaeaea" stroke-width="0.8"/>
<line x1="444.2" x2="783.5" y1="804.3" y2="804.3" stroke="#ffffff" stroke-width="0.95"/>
<line x1="444.2" x2="783.5" y1="765.26" y2="765.26" stroke="#ffffff" stroke-width="0.95"/>
<line x1="444.2" x2="783.5" y1="726.22" y2="726.22" stroke="#ffffff" stroke-width="0.95"/>
<line x1="444.2" x2="783.5" y1="687.18" y2="687.18" stroke="#ffffff" stroke-width="0.95"/>
<line x1="444.2" x2="783.5" y1="648.14" y2="648.14" stroke="#ffffff" stroke-width="0.95"/>
<line x1="444.2" x2="783.5" y1="609.1" y2="609.1" stroke="#ffffff" stroke-width="0.95"/>
<line y1="592.3" y2="830.2" x1="462.9" x2="462.9" stroke="#ffffff" stroke-width="0.95"/>
<line y1="592.3" y2="830.2" x1="510.85" x2="510.85" stroke="#ffffff" stroke-width="0.95"/>
<line y1="592.3" y2="830.2" x1="558.8" x2="558.8" stroke="#ffffff" stroke-width="0.95"/>
<line y1="592.3" y2="830.2" x1="606.75" x2="606.75" stroke="#ffffff" stroke-width="0.95"/>
<line y1="592.3" y2="830.2" x1="654.7" x2="654.7" stroke="#ffffff" stroke-width="0.95"/>
<line y1="592.3" y2="830.2" x1="702.65" x2="702.65" stroke="#ffffff" stroke-width="0.95"/>
<line y1="592.3" y2="830.2" x1="750.61" x2="750.61" stroke="#ffffff" stroke-width="0.95"/>
<circle cx="561.1" cy="602.9" r="2.5"/>
<circle cx="463.9" cy="721.8" r="2.5"/>
<circle cx="477.7" cy="725.5" r="2.5"/>
<circle cx="459.3" cy="740.4" r="2.5"/>
<circle cx="469.6" cy="764.2" r="2.5"/>
<circle cx="462.1" cy="769.9" r="2.5"/>
<circle cx="473.3" cy="772.2" r="2.5"/>
<circle cx="483.8" cy="774.5" r="2.5"/>
<circle cx="472.1" cy="781.4" r="2.5"/>
<circle cx="460.7" cy="792.4" r="2.5"/>
<circle cx="519.6" cy="761.9" r="2.5"/>
<circle cx="527.4" cy="764.2" r="2.5"/>
<circle cx="539.3" cy="767.2" r="2.5"/>
<circle cx="518" cy="773.6" r="2.5"/>
<circle cx="526.3" cy="781.9" r="2.5"/>
<circle cx="665.1" cy="780.2" r="2.5"/>
<circle cx="726.1" cy="776.9" r="2.5"/>
<circle cx="768.3" cy="763.2" r="2.5"/>
<path d="M459.8,727.6 L465.02,728.44 L470.24,729.24 L475.46,730 L480.68,730.71 L485.9,731.38 L491.12,732 L496.34,732.56 L501.56,733.07 L506.78,733.51 L512,733.89 L517.22,734.2 L522.44,734.44 L527.66,734.61 L532.88,734.71 L538.11,734.73 L543.33,734.68 L548.55,734.56 L553.77,734.37 L558.99,734.12 L564.21,733.79 L569.43,733.41 L574.65,732.97 L579.87,732.47 L585.09,731.92 L590.31,731.32 L595.53,730.68 L600.75,730 L605.97,729.28 L611.19,728.53 L616.41,727.75 L621.63,726.93 L626.85,726.09 L632.07,725.23 L637.29,724.34 L642.51,723.44 L647.73,722.51 L652.95,721.57 L658.17,720.61 L663.39,719.63 L668.61,718.65 L673.83,717.65 L679.05,716.64 L684.27,715.61 L689.49,714.58 L694.72,713.54 L699.94,712.49 L705.16,711.44 L710.38,710.37 L715.6,709.3 L720.82,708.22 L726.04,707.14 L731.26,706.05 L736.48,704.96 L741.7,703.86 L746.92,702.75 L752.14,701.65 L757.36,700.53 L762.58,699.42 L767.8,698.3 L767.8,819.9 L762.58,818.67 L757.36,817.43 L752.14,816.21 L746.92,814.98 L741.7,813.77 L736.48,812.55 L731.26,811.34 L726.04,810.14 L720.82,808.94 L715.6,807.75 L710.38,806.56 L705.16,805.38 L699.94,804.21 L694.72,803.04 L689.49,801.89 L684.27,800.74 L679.05,799.6 L673.83,798.48 L668.61,797.36 L663.39,796.26 L658.17,795.17 L652.95,794.1 L647.73,793.04 L642.51,792 L637.29,790.98 L632.07,789.97 L626.85,788.99 L621.63,788.04 L616.41,787.11 L611.19,786.21 L605.97,785.34 L600.75,784.51 L595.53,783.71 L590.31,782.96 L585.09,782.25 L579.87,781.58 L574.65,780.97 L569.43,780.41 L564.21,779.91 L558.99,779.47 L553.77,779.1 L548.55,778.8 L543.33,778.56 L538.11,778.4 L532.88,778.31 L527.66,778.29 L522.44,778.34 L517.22,778.47 L512,778.67 L506.78,778.93 L501.56,779.26 L496.34,779.65 L491.12,780.09 L485.9,780.6 L480.68,781.15 L475.46,781.75 L470.24,782.39 L465.02,783.08 L459.8,783.8 Z" fill="#999999" fill-opacity="0.4"/>
<line x1="459.8" y1="755.7" x2="767.8" y2="759.1" stroke="#2d5cff" stroke-width="1.75"/>
<line x1="440.7" x2="444.2" y1="804.3" y2="804.3" stroke="#6a6a6a" stroke-width="1"/>
<text transform="translate(437.4,807.15) scale(1,1.08)" text-anchor="end" class="tk">0</text>
<line x1="440.7" x2="444.2" y1="765.26" y2="765.26" stroke="#6a6a6a" stroke-width="1"/>
<text transform="translate(437.4,768.11) scale(1,1.08)" text-anchor="end" class="tk">1000</text>
<line x1="440.7" x2="444.2" y1="726.22" y2="726.22" stroke="#6a6a6a" stroke-width="1"/>
<text transform="translate(437.4,729.07) scale(1,1.08)" text-anchor="end" class="tk">2000</text>
<line x1="440.7" x2="444.2" y1="687.18" y2="687.18" stroke="#6a6a6a" stroke-width="1"/>
<text transform="translate(437.4,690.03) scale(1,1.08)" text-anchor="end" class="tk">3000</text>
<line x1="440.7" x2="444.2" y1="648.14" y2="648.14" stroke="#6a6a6a" stroke-width="1"/>
<text transform="translate(437.4,650.99) scale(1,1.08)" text-anchor="end" class="tk">4000</text>
<line x1="440.7" x2="444.2" y1="609.1" y2="609.1" stroke="#6a6a6a" stroke-width="1"/>
<text transform="translate(437.4,611.95) scale(1,1.08)" text-anchor="end" class="tk">5000</text>
<line x1="462.9" x2="462.9" y1="830.2" y2="833.8" stroke="#6a6a6a" stroke-width="1"/>
<text transform="translate(462.9,844.95) scale(1,1.08)" text-anchor="middle" class="tk">1.5</text>
<line x1="510.85" x2="510.85" y1="830.2" y2="833.8" stroke="#6a6a6a" stroke-width="1"/>
<text transform="translate(510.85,844.95) scale(1,1.08)" text-anchor="middle" class="tk">2.0</text>
<line x1="558.8" x2="558.8" y1="830.2" y2="833.8" stroke="#6a6a6a" stroke-width="1"/>
<text transform="translate(558.8,844.95) scale(1,1.08)" text-anchor="middle" class="tk">2.5</text>
<line x1="606.75" x2="606.75" y1="830.2" y2="833.8" stroke="#6a6a6a" stroke-width="1"/>
<text transform="translate(606.75,844.95) scale(1,1.08)" text-anchor="middle" class="tk">3.0</text>
<line x1="654.7" x2="654.7" y1="830.2" y2="833.8" stroke="#6a6a6a" stroke-width="1"/>
<text transform="translate(654.7,844.95) scale(1,1.08)" text-anchor="middle" class="tk">3.5</text>
<line x1="702.65" x2="702.65" y1="830.2" y2="833.8" stroke="#6a6a6a" stroke-width="1"/>
<text transform="translate(702.65,844.95) scale(1,1.08)" text-anchor="middle" class="tk">4.0</text>
<line x1="750.61" x2="750.61" y1="830.2" y2="833.8" stroke="#6a6a6a" stroke-width="1"/>
<text transform="translate(750.61,844.95) scale(1,1.08)" text-anchor="middle" class="tk">4.5</text>
<text x="615.05" y="859.9" text-anchor="middle" class="ti">SUV Ratio</text>
<text transform="translate(410.4,711.25) rotate(-90)" text-anchor="middle" class="ti">C-peptide (pmol/mmol)</text>
<text x="404.4" y="593.4" class="lt">f</text>
</svg>
</body></html>
